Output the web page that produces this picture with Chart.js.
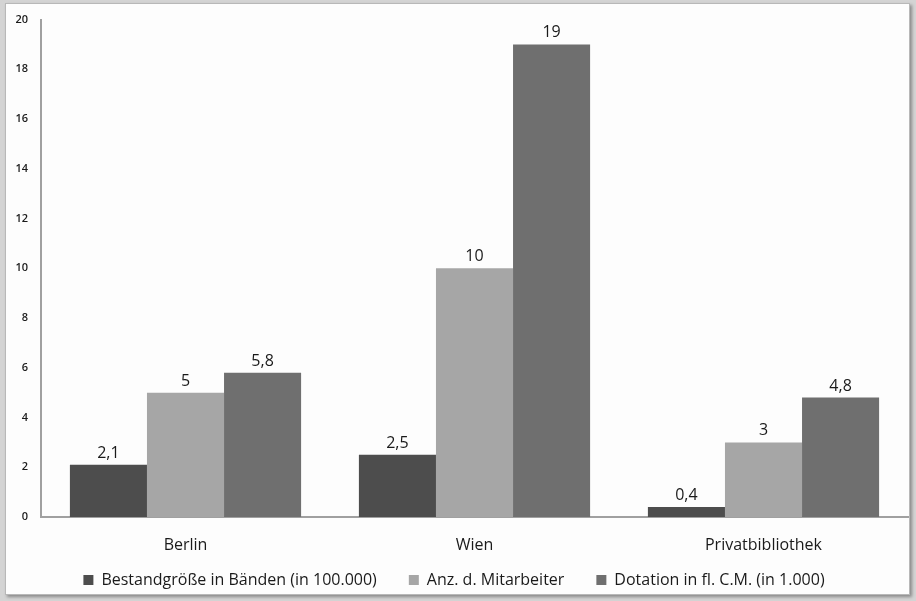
<!DOCTYPE html>
<html>
<head>
<meta charset="utf-8">
<script src="https://cdn.jsdelivr.net/npm/chart.js@4"></script>
<style>
    html, body { margin: 0; padding: 0; background: #d4d4d4; }
    #wrap { position: relative; width: 916px; height: 601px; }
    #frame {
        position: absolute; left: 5px; top: 3px; width: 903px; height: 590px;
        background: #fdfdfd; border: 1px solid #b8b8b8;
        box-shadow: 2px 2px 3px rgba(0,0,0,0.35);
    }
    #chart { position: absolute; left: 0; top: 0; }
</style>
</head>
<body>
<div id="wrap">
    <div id="frame"></div>
    <canvas id="chart" width="916" height="601"></canvas>
</div>
<script>
const categories = ['Berlin', 'Wien', 'Privatbibliothek'];
const seriesNames = ['Bestandgröße in Bänden (in 100.000)', 'Anz. d. Mitarbeiter', 'Dotation in fl. C.M. (in 1.000)'];
const bestand = [2.1, 2.5, 0.4];
const mitarbeiter = [5, 10, 3];
const dotation = [5.8, 19, 4.8];
const seriesColors = ['#4d4d4d', '#a6a6a6', '#6f6f6f'];

const FONT = "'Open Sans', 'Liberation Sans', sans-serif";

// Werte über den Balken (mit Komma)
const valueLabels = {
    id: 'valueLabels',
    afterDatasetsDraw(chart) {
        const ctx = chart.ctx;
        ctx.save();
        ctx.font = '16px ' + FONT;
        ctx.fillStyle = '#1a1a1a';
        ctx.textAlign = 'center';
        ctx.textBaseline = 'alphabetic';
        chart.data.datasets.forEach((ds, i) => {
            chart.getDatasetMeta(i).data.forEach((bar, j) => {
                const txt = String(ds.data[j]).replace('.', ',');
                ctx.fillText(txt, bar.x, bar.y - 7);
            });
        });
        ctx.restore();
    }
};

new Chart(document.getElementById('chart'), {
    type: 'bar',
    data: {
        labels: categories,
        datasets: [
            { label: seriesNames[0], data: bestand, backgroundColor: seriesColors[0] },
            { label: seriesNames[1], data: mitarbeiter, backgroundColor: seriesColors[1] },
            { label: seriesNames[2], data: dotation, backgroundColor: seriesColors[2] }
        ]
    },
    options: {
        responsive: false,
        animation: false,
        layout: { padding: { left: 0, right: 8, top: 14, bottom: 3 } },
        datasets: {
            bar: { categoryPercentage: 0.8, barPercentage: 1.0 }
        },
        plugins: {
            legend: {
                position: 'bottom',
                labels: {
                    boxWidth: 10,
                    boxHeight: 10,
                    padding: 32,
                    color: '#1a1a1a',
                    font: { family: FONT, size: 16 }
                }
            },
            tooltip: { enabled: false }
        },
        scales: {
            x: {
                grid: { display: false, drawTicks: false },
                border: { display: true, color: '#a0a0a0', width: 2 },
                ticks: { color: '#1a1a1a', padding: 19, font: { family: FONT, size: 16 } },
                afterFit(scale) {
                    scale.height = 23;
                    // Beschriftung nicht auf die (knappe) Achsenhöhe beschneiden
                    scale._computeLabelArea = () => undefined;
                }
            },
            y: {
                min: 0,
                max: 20,
                grid: { display: false, drawTicks: false },
                border: { display: true, color: '#a0a0a0', width: 2 },
                ticks: { stepSize: 2, color: '#1a1a1a', padding: 13, font: { family: FONT, size: 11, weight: '600' } },
                afterFit(scale) { scale.width = 41; }
            }
        }
    },
    plugins: [valueLabels]
});
</script>
</body>
</html>
